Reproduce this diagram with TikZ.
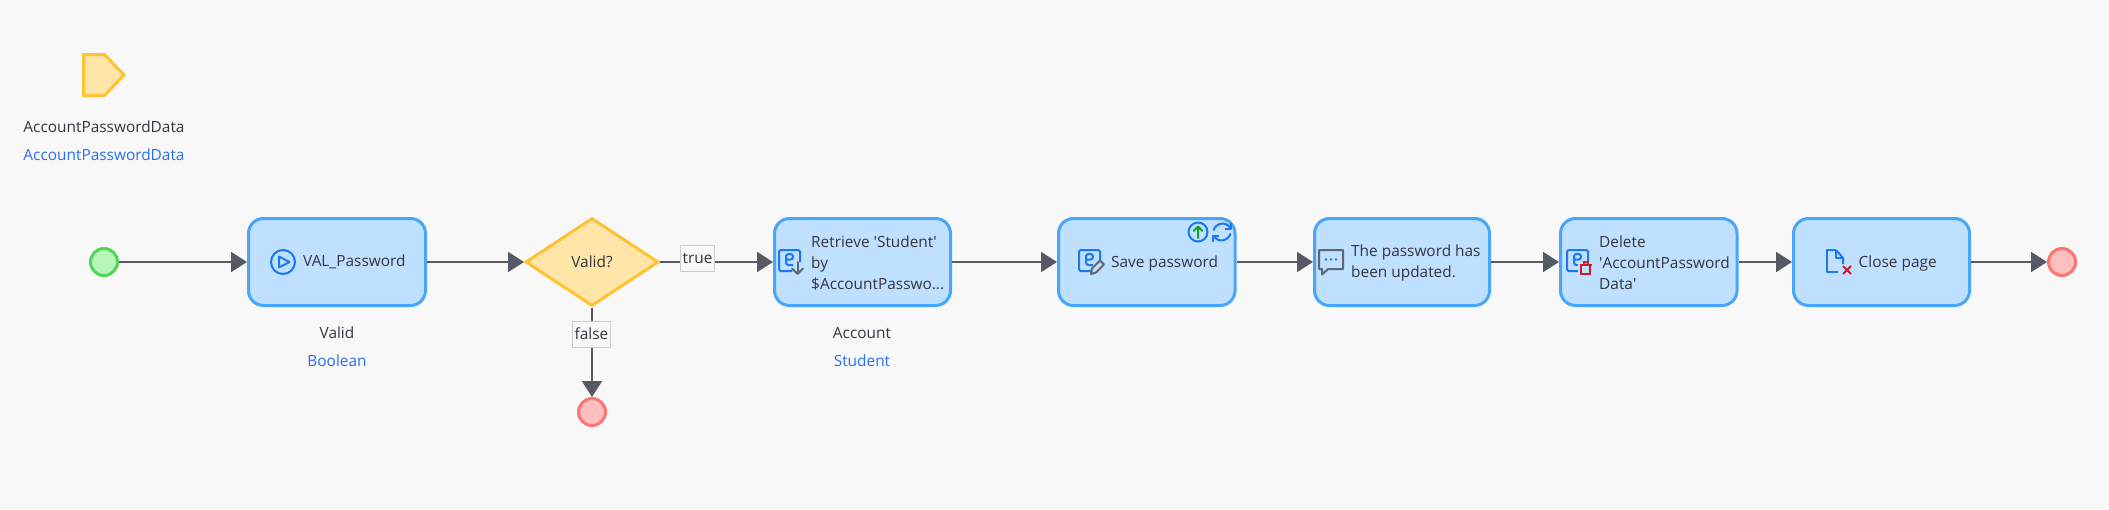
\documentclass[tikz,border=0pt]{standalone}
\usepackage{fontspec}
\setmainfont{Open Sans}
\usetikzlibrary{arrows.meta,shapes.geometric}
\definecolor{bgc}{HTML}{F8F8F8}
\definecolor{actfill}{HTML}{C0E0FF}
\definecolor{actline}{HTML}{47A5FA}
\definecolor{gatefill}{HTML}{FFE6A8}
\definecolor{gateline}{HTML}{FFC233}
\definecolor{startfill}{HTML}{B8F5B8}
\definecolor{startline}{HTML}{4FD655}
\definecolor{endfill}{HTML}{FFBFBF}
\definecolor{endline}{HTML}{FF7373}
\definecolor{flowc}{HTML}{555A65}
\definecolor{txtc}{HTML}{353540}
\definecolor{typec}{HTML}{2B6FF0}
\definecolor{iconblue}{HTML}{1C78F2}
\definecolor{icongrey}{HTML}{5F6670}
\definecolor{iconred}{HTML}{D0182C}
\definecolor{icongreen}{HTML}{12A02A}
\tikzset{
  x=1pt,y=-1pt,
  every node/.style={font=\fontsize{15.4}{21}\selectfont,text=txtc,inner sep=0pt},
  actbox/.style={draw=actline,fill=actfill,line width=3pt,rounded corners=15pt,minimum height=87pt},
  evstart/.style={circle,draw=startline,fill=startfill,line width=3pt,minimum size=27pt},
  evend/.style={circle,draw=endline,fill=endfill,line width=3pt,minimum size=27pt},
  gate/.style={diamond,aspect=1.5,draw=gateline,fill=gatefill,line width=3pt,minimum width=133pt,minimum height=88pt},
  flow/.style={draw=flowc,line width=2pt,-{Triangle[length=16pt,width=20pt,fill=flowc]}},
  flowlabel/.style={draw=black!20,fill=bgc,line width=1pt,minimum height=26pt},
  caption/.style={anchor=center},
  typecap/.style={anchor=center,text=typec},
  acttext/.style={anchor=west,align=left},
  iconb/.style={draw=iconblue,line width=2pt},
  icong/.style={draw=icongrey,line width=2pt},
  iconr/.style={draw=iconred,line width=2pt},
  pics/entityicon/.style={code={
    \draw[iconb,rounded corners=1.5pt] (21,12)--(21,0)--(0,0)--(0,21)--(13,21);
    \draw[iconb,rounded corners=2.5pt] (7,9.5)--(14,9.5)--(14,4)--(7,4)--(7,15)--(14,15);
  }}
}
\begin{document}
\begin{tikzpicture}
\useasboundingbox (0,0) rectangle (2109,509);
\fill[bgc] (0,0) rectangle (2109,509);

% parameter
\draw[draw=gateline,fill=gatefill,line width=3pt,line join=miter]
  (83.5,54.5)--(104.5,54.5)--(124,75)--(104.5,95.5)--(83.5,95.5)--cycle;
\node[caption] (paramname) at (104,127) {AccountPasswordData};
\node[typecap] (paramtype) at (104,155) {AccountPasswordData};

% nodes
\node[evstart] (start) at (104,262) {};
\node[actbox,minimum width=177pt] (val) at (337,262) {};
\node[gate] (valid) at (592,262) {Valid?};
\node[actbox,minimum width=176pt] (ret) at (862.5,262) {};
\node[actbox,minimum width=176.5pt] (save) at (1146.75,262) {};
\node[actbox,minimum width=175pt] (msg) at (1402,262) {};
\node[actbox,minimum width=176.5pt] (del) at (1648.75,262) {};
\node[actbox,minimum width=176pt] (close) at (1881.5,262) {};
\node[evend] (endtop) at (2062,262) {};
\node[evend] (endbot) at (592,412) {};

% flows
\draw[flow] (start) -- (val);
\draw[flow] (val) -- (valid);
\draw[flow] (valid) -- (ret);
\draw[flow] (valid) -- (endbot);
\draw[flow] (ret) -- (save);
\draw[flow] (save) -- (msg);
\draw[flow] (msg) -- (del);
\draw[flow] (del) -- (close);
\draw[flow] (close) -- (endtop);

% flow labels
\node[flowlabel,minimum width=34pt] (ltrue) at (697.5,258) {\raisebox{-1pt}{true}};
\node[flowlabel,minimum width=38pt] (lfalse) at (591.5,334) {false};

% activity texts
\node[acttext] (valtext) at (303,262) {VAL\_Password};
\node[acttext] (rettext) at (811,263) {Retrieve \textquotesingle Student\textquotesingle\\by\\\$AccountPasswo...};
\node[acttext] (savetext) at (1111,263) {Save password};
\node[acttext] (msgtext) at (1351,262.5) {The password has\\been updated.};
\node[acttext] (deltext) at (1599,263) {Delete\\\textquotesingle AccountPassword\\Data\textquotesingle};
\node[acttext] (closetext) at (1858.5,263) {Close page};

% output captions
\node[caption] (valname) at (337,333) {Valid};
\node[typecap] (valtype) at (337,361) {Boolean};
\node[caption] (retname) at (862,333) {Account};
\node[typecap] (rettype) at (862,361) {Student};

% microflow call icon
\draw[iconb] (283,262) circle[radius=12pt];
\draw[iconb,line join=round] (279,256.5)--(289.5,262)--(279,267.5)--cycle;

% retrieve icon
\pic at (779,250) {entityicon};
\draw[icong,line cap=round] (797.5,262)--(797.5,273);
\draw[icong,line cap=round,line join=round] (792,268.5)--(797.5,274)--(803,268.5);

% save icon
\pic at (1079,250) {entityicon};
\draw[fill=actfill,icong,line join=round] (1091,274)--(1092,268.5)--(1100,260.5)--(1104,264.5)--(1096,272.5)--cycle;
\draw[iconb] (1198,232) circle[radius=9.5pt];
\draw[draw=icongreen,line width=2pt,line cap=round,line join=round] (1198,238)--(1198,226.5) (1193.5,231)--(1198,226.5)--(1202.5,231);
% refresh icon
\draw[iconb] (1213.5,230.5) .. controls (1215,224) and (1225,220) .. (1230.5,228);
\draw[iconb] (1230.5,233.5) .. controls (1229,240) and (1219,244) .. (1213.5,236);
\draw[iconb,line join=round] (1231,222.5)--(1231,228.5)--(1225,228.5);
\draw[iconb,line join=round] (1213,241.5)--(1213,235.5)--(1219,235.5);

% message icon
\draw[icong,line join=round] (1319,250)--(1343,250)--(1343,269)--(1328,269)--(1322,274.5)--(1322,269)--(1319,269)--cycle;
\fill[iconblue] (1326,259.5) circle[radius=1.3pt] (1331,259.5) circle[radius=1.3pt] (1336,259.5) circle[radius=1.3pt];

% delete icon
\pic at (1567,250) {entityicon};
\fill[actfill] (1578,261) rectangle (1592,276);
\draw[iconr,line join=miter] (1581,265)--(1581,274)--(1590,274)--(1590,265);
\draw[iconr] (1579.5,264.5)--(1591.5,264.5);
\draw[iconr] (1583.5,264.5)--(1583.5,262)--(1587.5,262)--(1587.5,264.5);

% close page icon
\draw[iconb,line join=round] (1836,250)--(1827,250)--(1827,272)--(1838,272);
\draw[iconb,line join=round] (1836,250)--(1843,258)--(1843,264);
\draw[iconb,line join=round] (1836,250)--(1836,258)--(1843,258);
\draw[iconr] (1843,266)--(1851,274) (1851,266)--(1843,274);
\end{tikzpicture}
\end{document}
